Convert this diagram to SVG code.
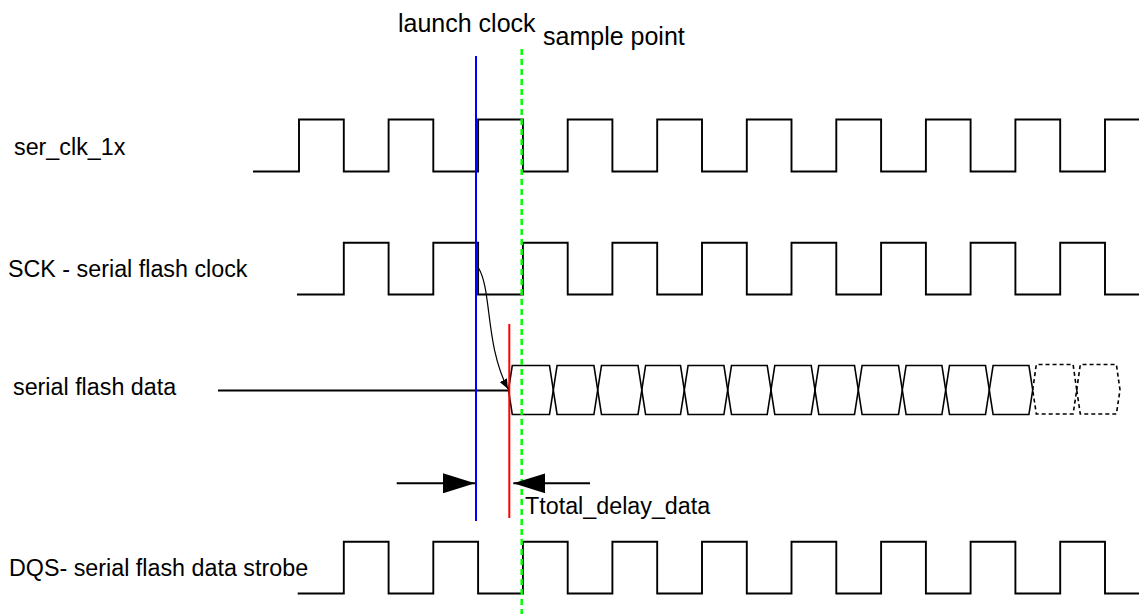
<svg xmlns="http://www.w3.org/2000/svg" width="1139" height="614" viewBox="0 0 1139 614">
<style>
text{font-family:"Liberation Sans",Arial,Helvetica,sans-serif;fill:#000}
.lbl{font-size:23.3px}
.top{font-size:25px}
.wave{fill:none;stroke:#000;stroke-width:1.9;stroke-linejoin:miter}
.eye{fill:none;stroke:#000;stroke-width:1.6}
.eyed{fill:none;stroke:#000;stroke-width:1.6;stroke-dasharray:4,3}
.conn{fill:none;stroke:#000}
</style>
<defs>
<marker id="big" viewBox="0 0 32 20" refX="32" refY="10" markerWidth="32" markerHeight="20" markerUnits="userSpaceOnUse" orient="auto">
<path d="M0,0 L32,10 L0,20 Z" fill="#000"/>
</marker>
<marker id="small" viewBox="0 0 10 8" refX="10" refY="4" markerWidth="10" markerHeight="8" markerUnits="userSpaceOnUse" orient="auto">
<path d="M0,0 L10,4 L0,8 Z" fill="#000"/>
</marker>
</defs>

<g id="ser_clk_1x">
<text class="lbl" x="14" y="155">ser_clk_1x</text>
<path class="wave" d="M253,171.5 H299 V119.5 H343.8 V171.5 H388.6 V119.5 H433.3 V171.5 H478.1 V119.5 H522.9 V171.5 H567.7 V119.5 H612.4 V171.5 H657.2 V119.5 H702 V171.5 H746.8 V119.5 H791.5 V171.5 H836.3 V119.5 H881.1 V171.5 H925.9 V119.5 H970.6 V171.5 H1015.4 V119.5 H1060.2 V171.5 H1105 V119.5 H1139"/>
</g>

<g id="sck">
<text class="lbl" x="8" y="277.3">SCK - serial flash clock</text>
<path class="wave" d="M297,294.5 H343.8 V242.7 H388.6 V294.5 H433.3 V242.7 H478.1 V294.5 H522.9 V242.7 H567.7 V294.5 H612.4 V242.7 H657.2 V294.5 H702 V242.7 H746.8 V294.5 H791.5 V242.7 H836.3 V294.5 H881.1 V242.7 H925.9 V294.5 H970.6 V242.7 H1015.4 V294.5 H1060.2 V242.7 H1105 V294.5 H1139"/>
</g>

<g id="serial_flash_data">
<text class="lbl" x="13" y="395">serial flash data</text>
<path class="wave" d="M218,390.5 H508.5"/>
<path class="eye" d="M508.5,390 L512.3,365.5 L549.5,365.5 L553.3,390 L549.5,414.5 L512.3,414.5 Z"/>
<path class="eye" d="M553.3,390 L557.1,365.5 L593.9,365.5 L597.7,390 L593.9,414.5 L557.1,414.5 Z"/>
<path class="eye" d="M597.7,390 L601.5,365.5 L638,365.5 L641.8,390 L638,414.5 L601.5,414.5 Z"/>
<path class="eye" d="M641.8,390 L645.6,365.5 L680.5,365.5 L684.3,390 L680.5,414.5 L645.6,414.5 Z"/>
<path class="eye" d="M684.3,390 L688.1,365.5 L723.9,365.5 L727.7,390 L723.9,414.5 L688.1,414.5 Z"/>
<path class="eye" d="M727.7,390 L731.5,365.5 L767.2,365.5 L771,390 L767.2,414.5 L731.5,414.5 Z"/>
<path class="eye" d="M771,390 L774.8,365.5 L811.2,365.5 L815,390 L811.2,414.5 L774.8,414.5 Z"/>
<path class="eye" d="M815,390 L818.8,365.5 L854.5,365.5 L858.3,390 L854.5,414.5 L818.8,414.5 Z"/>
<path class="eye" d="M858.3,390 L862.1,365.5 L898.5,365.5 L902.3,390 L898.5,414.5 L862.1,414.5 Z"/>
<path class="eye" d="M902.3,390 L906.1,365.5 L941.9,365.5 L945.7,390 L941.9,414.5 L906.1,414.5 Z"/>
<path class="eye" d="M945.7,390 L949.5,365.5 L985.5,365.5 L989.3,390 L985.5,414.5 L949.5,414.5 Z"/>
<path class="eye" d="M989.3,390 L993.1,365.5 L1028.9,365.5 L1032.7,390 L1028.9,414.5 L993.1,414.5 Z"/>
<path class="eyed" d="M1032.7,390 L1036.3,364.5 L1073.1,364.5 L1076.7,390 L1073.1,414 L1036.3,414 Z"/>
<path class="eyed" d="M1076.7,390 L1080.3,364.5 L1116.4,364.5 L1120,390 L1116.4,414 L1080.3,414 Z"/>
</g>

<g id="dqs">
<text class="lbl" x="9" y="576">DQS- serial flash data strobe</text>
<path class="wave" d="M297.7,593.5 H343.8 V541.7 H388.6 V593.5 H433.3 V541.7 H478.1 V593.5 H522.9 V541.7 H567.7 V593.5 H612.4 V541.7 H657.2 V593.5 H702 V541.7 H746.8 V593.5 H791.5 V541.7 H836.3 V593.5 H881.1 V541.7 H925.9 V593.5 H970.6 V541.7 H1015.4 V593.5 H1060.2 V541.7 H1105 V593.5 H1139"/>
</g>

<g id="launch_clock">
<text class="top" x="398" y="32.3">launch clock</text>
<line x1="476" y1="56" x2="476" y2="521" stroke="#0000ff" stroke-width="2"/>
</g>

<g id="sample_point">
<text class="top" x="543" y="45">sample point</text>
<line x1="521.7" y1="49" x2="521.7" y2="614" stroke="#00ff00" stroke-width="2.5" stroke-dasharray="6,4"/>
</g>

<g id="data_valid">
<line x1="509.3" y1="324" x2="509.3" y2="518" stroke="#ff0000" stroke-width="2"/>
</g>

<g id="delay_label">
<text class="lbl" x="525" y="514">Ttotal_delay_data</text>
</g>

<g id="connectors">
<path class="conn" stroke-width="1.2" d="M478.5,268 C492,290 485,345 508,389" marker-end="url(#small)"/>
<line class="conn" stroke-width="2" x1="396.7" y1="483.3" x2="475" y2="483.3" marker-end="url(#big)"/>
<line class="conn" stroke-width="2" x1="590" y1="483.3" x2="513.3" y2="483.3" marker-end="url(#big)"/>
</g>
</svg>
